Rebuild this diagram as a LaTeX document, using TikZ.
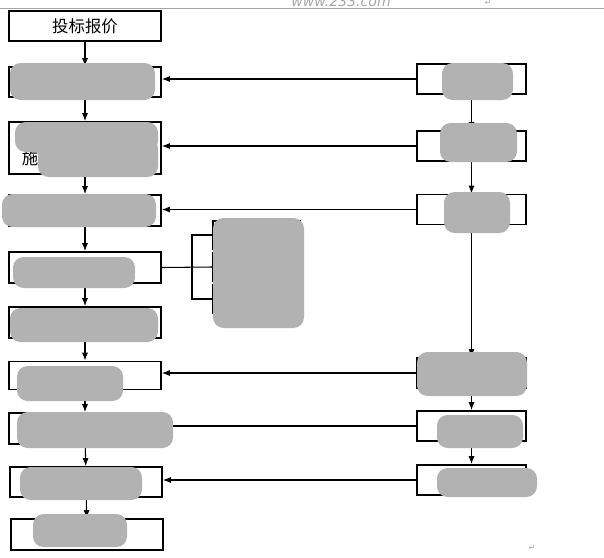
\documentclass[tikz,border=0pt]{standalone}
\usepackage{fontspec}
\newfontfamily\cjk{Noto Sans CJK SC}
\newfontfamily\markfont{DejaVu Sans}
\usetikzlibrary{arrows.meta}
\tikzset{
  stage/.style={draw, line width=1.4pt, minimum width=4.56cm, minimum height=0.9cm, inner sep=0pt, font=\cjk\fontsize{14}{16}\selectfont},
  party/.style={stage, minimum width=3.27cm},
  part/.style={stage, minimum width=2.61cm, minimum height=0.84cm},
  flow/.style={-{Latex[length=2.4mm,width=1.8mm]}, line width=0.9pt},
  smudge/.style={fill=gray!60, rounded corners=9pt}
}
\begin{document}
\begin{tikzpicture}[x=0.03cm, y=-0.03cm]
    \useasboundingbox (0,0) rectangle (604,558);

    % Header
    \draw[gray!70, line width=0.6pt] (0,8) -- (604,8);
    \node[anchor=base, font=\markfont\itshape\fontsize{12}{12}\selectfont, text=gray!70] (site) at (341,6) {www.233.com};
    \node[font=\markfont\fontsize{7}{7}\selectfont, text=gray!70] (mark1) at (488,3) {↵};
    \node[font=\markfont\fontsize{7}{7}\selectfont, text=gray!70] (mark2) at (532,548) {↵};

    % Left column
    \node[stage] (B1) at (85,26) {投标报价};
    \node[stage] (B2) at (85,82) {};
    \node[stage, minimum height=1.56cm] (B3) at (85,148) {};
    \node[stage, minimum height=0.93cm] (B4) at (85,210.5) {};
    \node[stage, minimum height=0.93cm] (B5) at (85,267.5) {};
    \node[stage, minimum height=0.93cm] (B6) at (85,322.5) {};
    \node[stage, minimum height=0.84cm] (B7) at (85,375.5) {};
    \node[stage, minimum height=0.93cm] (B8) at (85,428.5) {};
    \node[stage] (B9) at (86,482) {};
    \node[stage, minimum height=0.93cm] (B10) at (87,534.5) {};
    \node[font=\cjk\fontsize{14}{16}\selectfont] (shi) at (30,158) {施};

    % Right column
    \node[party] (R1) at (471.5,79) {};
    \node[party] (R2) at (471.5,146) {};
    \node[party] (R3) at (471.5,209.5) {};
    \node[party] (R4) at (471.5,373) {};
    \node[party] (R5) at (471.5,426) {};
    \node[party] (R6) at (471.5,480) {};

    % Sub-items
    \node[part] (S1) at (256.5,235) {};
    \node[part] (S2) at (256.5,267) {};
    \node[part] (S3) at (256.5,299) {};
    \coordinate (fork) at (192,267);

    % Flow down
    \foreach \a/\b in {B1/B2, B2/B3, B3/B4, B4/B5, B5/B6, B6/B7, B7/B8, B8/B9, B9/B10,
                       R1/R2, R2/R3, R3/R4, R4/R5, R5/R6}
        \draw[flow] (\a) -- (\b);

    % Flow across
    \foreach \r/\l in {R1/B2, R2/B3, R3/B4, R4/B7, R5/B8, R6/B9}
        \draw[flow] (\r.west) -- (\r.west -| \l.east);

    \draw[line width=0.9pt] (B5.east) -- (S2.west);
    \draw[line width=0.9pt] (S1.west) -| (fork) |- (S3.west);

    % Masked text
    \fill[smudge] (10,63) rectangle (155,100);
    \fill[smudge] (442,63) rectangle (513,100);
    \fill[smudge] (15,122) rectangle (158,152);
    \fill[smudge] (38,138) rectangle (158,177);
    \fill[smudge] (440,123) rectangle (517,162);
    \fill[smudge] (2,194) rectangle (156,227);
    \fill[smudge] (444,192) rectangle (510,233);
    \fill[smudge] (13,257) rectangle (135,288);
    \fill[smudge] (213,218) rectangle (304,328);
    \fill[smudge] (10,308) rectangle (158,342);
    \fill[smudge] (17,366) rectangle (123,401);
    \fill[smudge] (417,352) rectangle (527,396);
    \fill[smudge] (17,412) rectangle (173,448);
    \fill[smudge] (437,415) rectangle (523,448);
    \fill[smudge] (20,467) rectangle (142,500);
    \fill[smudge] (437,468) rectangle (537,497);
    \fill[smudge] (33,514) rectangle (127,547);
\end{tikzpicture}
\end{document}
